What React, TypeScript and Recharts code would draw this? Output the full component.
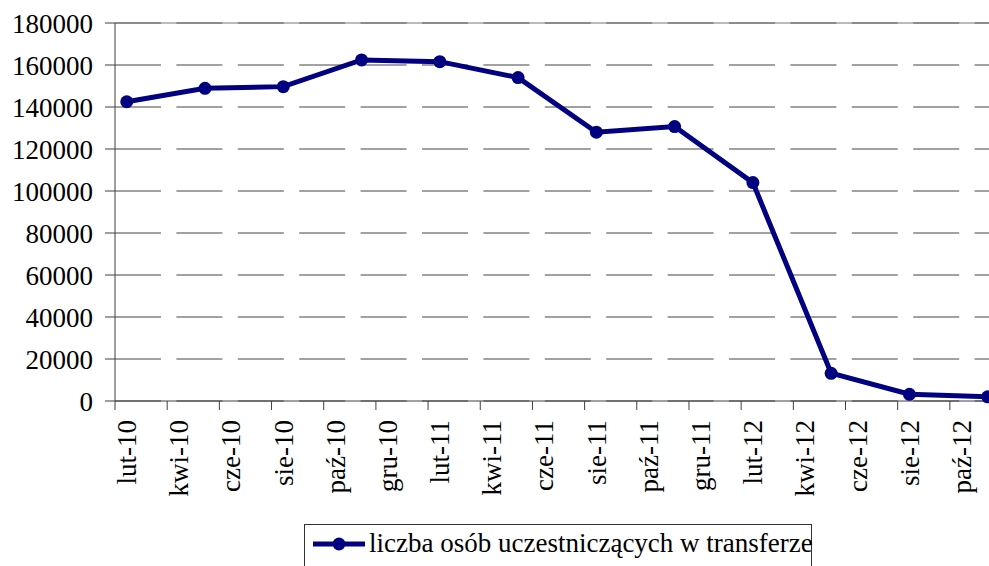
import { LineChart, Line, XAxis, YAxis, CartesianGrid, ReferenceLine, Legend } from 'recharts';

// months counted from lut-10 (feb 2010)
const tickMonths = [0, 2, 4, 6, 8, 10, 12, 14, 16, 18, 20, 22, 24, 26, 28, 30, 32];
const tickLabels = [
  'lut-10', 'kwi-10', 'cze-10', 'sie-10', 'paź-10', 'gru-10',
  'lut-11', 'kwi-11', 'cze-11', 'sie-11', 'paź-11', 'gru-11',
  'lut-12', 'kwi-12', 'cze-12', 'sie-12', 'paź-12',
];
const yTicks = [0, 20000, 40000, 60000, 80000, 100000, 120000, 140000, 160000, 180000];

const pointMonths = [0.45, 3.45, 6.45, 9.45, 12.45, 15.45, 18.45, 21.45, 24.45, 27.45, 30.45, 33.45];
const participants = [142500, 148900, 149700, 162400, 161600, 154000, 128000, 130700, 104000, 13200, 3200, 2000];

const seriesName = 'liczba osób uczestniczących w transferze';
const data = pointMonths.map((m, i) => ({ month: m, value: participants[i] }));

const font = 'Liberation Serif, Tinos, Times New Roman, DejaVu Serif, serif';
const navy = '#000080';

function MonthTick(props: any) {
  const { x, y, payload } = props;
  const label = tickLabels[tickMonths.indexOf(payload.value)];
  const tx = x + 21;
  return (
    <text x={tx} y={y} transform={`rotate(-90, ${tx}, ${y})`} textAnchor="end"
      style={{ fontFamily: font }} fontSize={27} fill="#000">
      {label}
    </text>
  );
}

function LegendBox() {
  return (
    <div style={{
      border: '1px solid #333', background: '#fff', height: 50, boxSizing: 'border-box',
      display: 'flex', alignItems: 'flex-start', fontFamily: font, fontSize: 27, color: '#000',
    }}>
      <svg width={64} height={40} style={{ flex: 'none' }}>
        <line x1={8} y1={19} x2={60} y2={19} stroke={navy} strokeWidth={5} />
        <circle cx={34} cy={19} r={6.5} fill={navy} />
      </svg>
      <span style={{ lineHeight: '36px', whiteSpace: 'nowrap' }}>{seriesName}</span>
    </div>
  );
}

export default function App() {
  return (
    <div style={{ position: 'absolute', left: 0, top: 0, background: '#fff', fontFamily: font }}>
      <LineChart width={989} height={566} data={data} margin={{ top: 23, right: 0, bottom: 0, left: 0 }}>
        <CartesianGrid vertical={false} stroke="#444" strokeDasharray="46 15.4" />
        <ReferenceLine y={180000} stroke="#777" strokeWidth={1} />
        <XAxis dataKey="month" type="number" domain={[0, 33.5]} ticks={tickMonths}
          height={165} tickSize={9} tickMargin={10} stroke="#404040" tick={<MonthTick />}
          allowDataOverflow />
        <YAxis type="number" domain={[0, 180000]} ticks={yTicks} width={115}
          tickSize={10} tickMargin={12} stroke="#404040" interval={0}
          tick={{ style: { fontFamily: font }, fontSize: 27, fill: '#000' }} />
        <Legend layout="horizontal" verticalAlign="middle" align="center"
          wrapperStyle={{ position: 'absolute', left: 304, top: 524, width: 508, height: 50 }}
          content={() => <LegendBox />} />
        <Line dataKey="value" name={seriesName} stroke={navy} strokeWidth={5}
          dot={{ r: 6.5, fill: navy, stroke: navy, strokeWidth: 0 }}
          isAnimationActive={false} />
      </LineChart>
    </div>
  );
}
